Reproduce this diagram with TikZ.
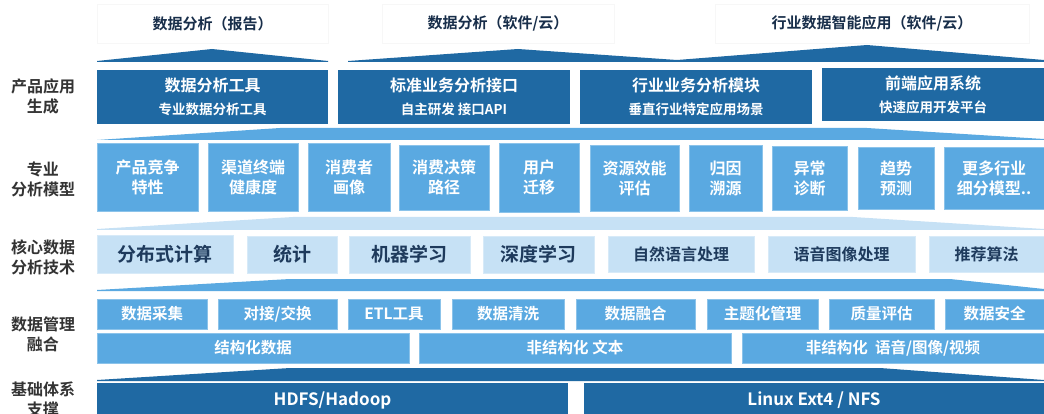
\documentclass[tikz,border=0pt]{standalone}
\usepackage{fontspec}
\setmainfont{Noto Sans CJK SC}[BoldFont={Noto Sans CJK SC Bold}]
\definecolor{dkblue}{HTML}{1F69A3}
\definecolor{mdblue}{HTML}{5AA9E1}
\definecolor{ltblue}{HTML}{C6E1F5}
\definecolor{navy}{HTML}{1E3A5C}
\definecolor{lbl}{HTML}{333333}
\newcommand\fs[2]{\fontsize{#1}{#2}\selectfont}
\newcommand\bx[7]{\node[#6, minimum width={#4pt-#2pt}, minimum height={#5pt-#3pt}] (#1) at ({(#2+#4)/2},{(#3+#5)/2}) {#7};}
\tikzset{
  base/.style={inner sep=0pt, outer sep=0pt, align=center, font=\bfseries},
  topbox/.style={base, fill=white, draw=black!3, line width=0.6pt, text=navy!80!black, font=\bfseries\fontsize{15}{18}\selectfont},
  dkbox/.style={base, fill=dkblue, text=white},
  mdbox/.style={base, fill=mdblue, draw=mdblue!70!white, line width=0.6pt, text=white, font=\bfseries\fontsize{16}{20}\selectfont},
  mdbar/.style={base, fill=mdblue, draw=mdblue!70!white, line width=0.6pt, text=white, font=\bfseries\fontsize{15.5}{19}\selectfont},
  ltbox/.style={base, fill=ltblue, draw=ltblue!70!white, line width=0.6pt, text=navy},
  sidelbl/.style={base, text=lbl, font=\bfseries\fontsize{16}{20}\selectfont},
}
\begin{document}
\begin{tikzpicture}[x=1pt,y=-1pt]
\useasboundingbox (0,0) rectangle (1044,414);
% top labels
\bx{t1}{97}{4}{328}{43}{topbox}{数据分析（报告）}
\bx{t2}{382}{4}{614}{43}{topbox}{数据分析（软件/云）}
\bx{t3}{715}{4}{1029}{43}{topbox}{行业数据智能应用（软件/云）}
% top arrow bands
\fill[dkblue] (97,62) -- (97,61) -- (212,49) -- (328,61) -- (328,62) -- cycle;
\fill[dkblue] (348,62) -- (348,61) -- (518,49) -- (677,60) -- (867,45) -- (1044,60) -- (1044,62) -- cycle;
% row 1
\bx{p1}{97}{70}{328}{124}{dkbox}{{\fs{16}{20}数据分析工具}\\[9pt]{\fs{13.5}{16}专业数据分析工具}}
\bx{p2}{338}{70}{570}{124}{dkbox}{{\fs{16}{20}标准业务分析接口}\\[9pt]{\fs{13.5}{16}自主研发 接口API}}
\bx{p3}{580}{70}{812}{124}{dkbox}{{\fs{16}{20}行业业务分析模块}\\[9pt]{\fs{13.5}{16}垂直行业特定应用场景}}
\bx{p4}{822}{68}{1044}{121}{dkbox}{{\fs{16}{20}前端应用系统}\\[9pt]{\fs{13.5}{16}快速应用开发平台}}
\fill[mdblue] (97,140) -- (280,128) -- (867,128) -- (1044,139) -- (1044,140) -- cycle;
% row 2
\bx{m1}{97}{143}{198}{211}{mdbox}{产品竞争\\特性}
\bx{m2}{208}{143}{298}{211}{mdbox}{渠道终端\\健康度}
\bx{m3}{308}{143}{390}{211}{mdbox}{消费者\\画像}
\bx{m4}{399}{145}{489}{210}{mdbox}{消费决策\\路径}
\bx{m5}{499}{143}{579}{212}{mdbox}{用户\\迁移}
\bx{m6}{590}{145}{679}{211}{mdbox}{资源效能\\评估}
\bx{m7}{689}{145}{762}{211}{mdbox}{归因\\溯源}
\bx{m8}{772}{146}{847}{210}{mdbox}{异常\\诊断}
\bx{m9}{858}{147}{934}{209}{mdbox}{趋势\\预测}
\bx{m10}{944}{147}{1044}{209}{mdbox}{更多行业\\细分模型..}
\fill[ltblue] (97,230) -- (97,229) -- (293,217) -- (853,217) -- (1044,229) -- (1044,230) -- cycle;
% row 3
\bx{c1}{97}{235}{233}{273}{ltbox}{\fs{19}{22}分布式计算}
\bx{c2}{247}{236}{337}{273}{ltbox}{\fs{19}{22}统计}
\bx{c3}{349}{236}{470}{273}{ltbox}{\fs{19}{22}机器学习}
\bx{c4}{483}{236}{594}{273}{ltbox}{\fs{19}{22}深度学习}
\bx{c5}{608}{236}{754}{272}{ltbox}{\fs{16}{20}自然语言处理}
\bx{c6}{768}{236}{915}{272}{ltbox}{\fs{16}{20}语音图像处理}
\bx{c7}{929}{236}{1044}{272}{ltbox}{\fs{16}{20}推荐算法}
\fill[mdblue] (97,291) -- (97,290) -- (290,279) -- (950,279) -- (1044,289) -- (1044,291) -- cycle;
% row 4
\bx{d1}{97}{299}{207}{329}{mdbar}{数据采集}
\bx{d2}{218}{299}{337}{329}{mdbar}{对接/交换}
\bx{d3}{348}{299}{440}{329}{mdbar}{ETL工具}
\bx{d4}{452}{299}{564}{329}{mdbar}{数据清洗}
\bx{d5}{576}{299}{695}{329}{mdbar}{数据融合}
\bx{d6}{707}{299}{818}{329}{mdbar}{主题化管理}
\bx{d7}{829}{299}{934}{329}{mdbar}{质量评估}
\bx{d8}{945}{299}{1044}{329}{mdbar}{数据安全}
\bx{s1}{97}{333}{409}{363}{mdbar}{结构化数据}
\bx{s2}{419}{333}{731}{363}{mdbar}{非结构化 文本}
\bx{s3}{742}{333}{1044}{363}{mdbar}{非结构化\ \ 语音/图像/视频}
\fill[dkblue] (97,381) -- (97,380) -- (290,368) -- (880,368) -- (1044,380) -- (1044,381) -- cycle;
% row 5
\bx{b1}{97}{383}{568}{417}{dkbox}{\fs{17}{20}HDFS/Hadoop}
\bx{b2}{584}{383}{1044}{417}{dkbox}{\fs{17}{20}Linux Ext4 / NFS}
% side labels
\node[sidelbl] (l1) at (43,96) {产品应用\\生成};
\node[sidelbl] (l2) at (43,179) {专业\\分析模型};
\node[sidelbl] (l3) at (43,257) {核心数据\\分析技术};
\node[sidelbl] (l4) at (43,334) {数据管理\\融合};
\node[sidelbl] (l5) at (43,399) {基础体系\\支撑};
\end{tikzpicture}
\end{document}
